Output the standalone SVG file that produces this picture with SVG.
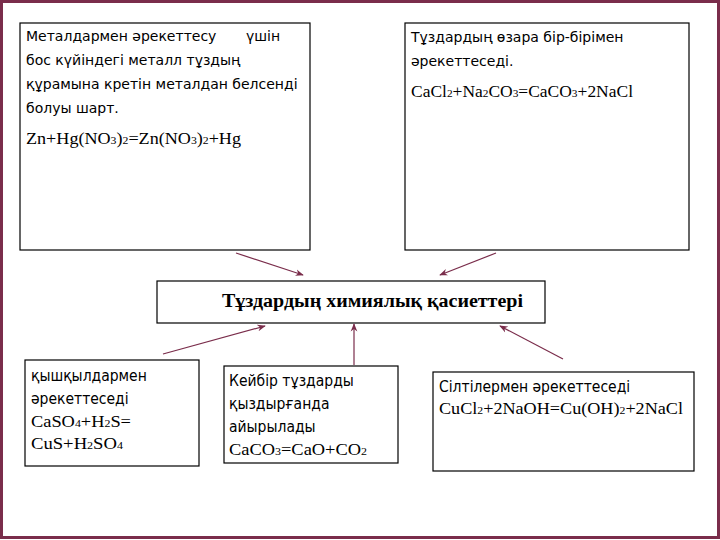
<svg xmlns="http://www.w3.org/2000/svg" width="720" height="540" viewBox="0 0 720 540">
<defs>
<style>
.box{fill:#fff;stroke:#000;stroke-width:1.2}
.t{font-family:"DejaVu Sans",sans-serif;font-size:14px;fill:#000}
.tc{font-family:"DejaVu Sans Condensed","DejaVu Sans",sans-serif;font-size:15.5px;fill:#000}
.s{font-family:"Liberation Serif",serif;font-size:17px;fill:#000}
.sub{font-size:11px}
.c{stroke:#7a2d4b;stroke-width:1.2;fill:none;marker-end:url(#a)}
</style>
<marker id="a" viewBox="0 0 10 10" refX="9" refY="5" markerWidth="7" markerHeight="7" orient="auto"><path d="M0,1 L10,5 L0,9 L3,5 Z" fill="#7a2d4b"/></marker>
</defs>
<rect width="720" height="540" fill="#fff"/>
<rect x="1.5" y="1.5" width="717" height="536" fill="none" stroke="#7a2d4b" stroke-width="3"/>
<g id="n1">
<rect class="box" x="20" y="23" width="290" height="227"/>
<text class="t" x="26" y="41">Металдармен әрекеттесу<tspan x="246">үшін</tspan></text>
<text class="t" x="26" y="65">бос күйіндегі  металл тұздың</text>
<text class="t" x="26" y="89">құрамына кретін металдан белсенді</text>
<text class="t" x="26" y="113">болуы шарт.</text>
<text class="s" x="26" y="144" textLength="215" lengthAdjust="spacingAndGlyphs">Zn+Hg(NO<tspan class="sub">3</tspan>)<tspan class="sub">2</tspan>=Zn(NO<tspan class="sub">3</tspan>)<tspan class="sub">2</tspan>+Hg</text>
</g>
<g id="n2">
<rect class="box" x="405" y="23" width="284" height="227"/>
<text class="t" x="411" y="42">Тұздардың өзара бір-бірімен</text>
<text class="t" x="411" y="66">әрекеттеседі.</text>
<text class="s" x="411" y="97" textLength="222" lengthAdjust="spacingAndGlyphs">CaCl<tspan class="sub">2</tspan>+Na<tspan class="sub">2</tspan>CO<tspan class="sub">3</tspan>=CaCO<tspan class="sub">3</tspan>+2NaCl</text>
</g>
<g id="n0">
<rect class="box" x="157" y="281" width="388" height="42"/>
<text x="222" y="307" font-family="Liberation Serif,serif" font-weight="bold" font-size="18" textLength="301" lengthAdjust="spacingAndGlyphs">Тұздардың химиялық қасиеттері</text>
</g>
<g id="n3">
<rect class="box" x="25" y="360" width="174" height="106"/>
<text class="tc" x="31" y="381">қышқылдармен</text>
<text class="tc" x="31" y="404">әрекеттеседі</text>
<text class="s" x="31" y="427" textLength="100" lengthAdjust="spacingAndGlyphs">CaSO<tspan class="sub">4</tspan>+H<tspan class="sub">2</tspan>S=</text>
<text class="s" x="31" y="449" textLength="92" lengthAdjust="spacingAndGlyphs">CuS+H<tspan class="sub">2</tspan>SO<tspan class="sub">4</tspan></text>
</g>
<g id="n4">
<rect class="box" x="224" y="366" width="174" height="97"/>
<text class="tc" x="229" y="386">Кейбір тұздарды</text>
<text class="tc" x="229" y="409">қыздырғанда</text>
<text class="tc" x="229" y="432">айырылады</text>
<text class="s" x="229" y="455" textLength="138" lengthAdjust="spacingAndGlyphs">CaCO<tspan class="sub">3</tspan>=CaO+CO<tspan class="sub">2</tspan></text>
</g>
<g id="n5">
<rect class="box" x="433" y="372" width="261" height="99"/>
<text class="tc" x="439" y="392">Сілтілермен әрекеттеседі</text>
<text class="s" x="439" y="414" textLength="244" lengthAdjust="spacingAndGlyphs">CuCl<tspan class="sub">2</tspan>+2NaOH=Cu(OH)<tspan class="sub">2</tspan>+2NaCl</text>
</g>
<g id="connectors">
<line class="c" x1="236" y1="253" x2="303" y2="275"/>
<line class="c" x1="496" y1="253" x2="440" y2="275"/>
<line class="c" x1="163" y1="354" x2="265" y2="326"/>
<line class="c" x1="354" y1="365" x2="354" y2="324"/>
<line class="c" x1="563" y1="359" x2="500" y2="326"/>
</g>
</svg>
